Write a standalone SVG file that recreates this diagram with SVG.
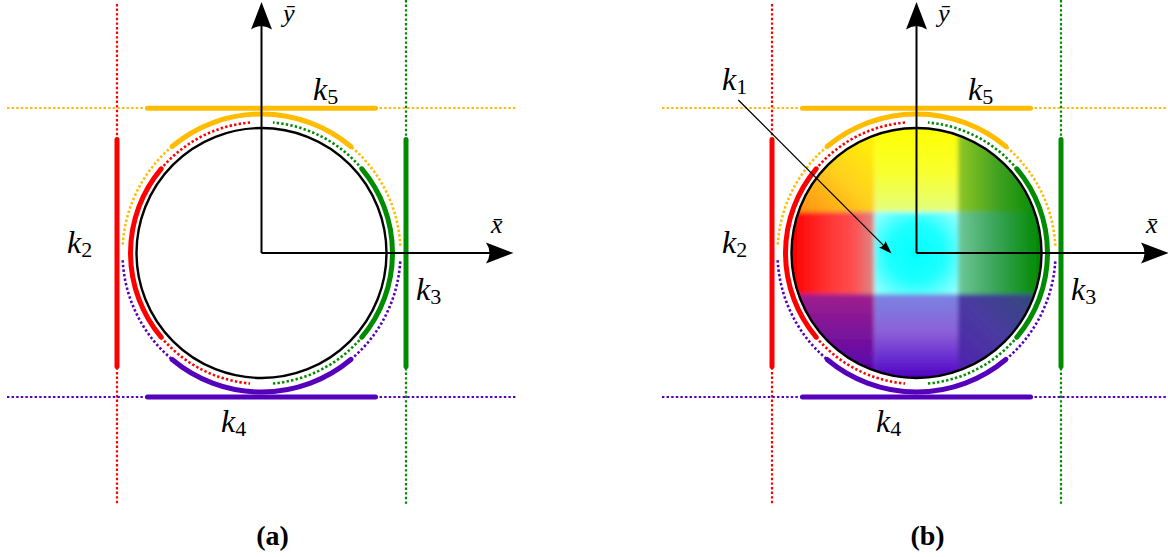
<svg xmlns="http://www.w3.org/2000/svg" xmlns:xlink="http://www.w3.org/1999/xlink" width="1168" height="557" viewBox="0 0 1168 557">
<style>
.dot{fill:none;stroke-width:2.6;stroke-dasharray:2.4 2.2;}
.ldot{fill:none;stroke-width:2.2;stroke-dasharray:2.4 2.2;}
.thick{fill:none;stroke-width:5;stroke-linecap:round;}
.r{stroke:#ff0000}.g{stroke:#008c00}.o{stroke:#ffbc00}.p{stroke:#5500bb}
.axis{stroke:#000;stroke-width:2;fill:none}
.head{fill:#000;stroke:none}
.lbl{font-family:"Liberation Serif",serif;font-style:italic;font-size:32px;fill:#000}
.sub{font-style:normal;font-size:22px}
.ax{font-size:26px}
.cap{font-family:"Liberation Serif",serif;font-weight:bold;font-size:28px;text-anchor:middle;fill:#000}
</style>
<defs>
<clipPath id="disk"><circle cx="916.5" cy="253" r="125"/></clipPath>
<filter id="soft" x="-5%" y="-5%" width="110%" height="110%"><feGaussianBlur stdDeviation="2"/></filter>
<linearGradient id="gTL" gradientUnits="userSpaceOnUse" x1="874" y1="135" x2="800" y2="212"><stop offset="0" stop-color="#fff400"/><stop offset="0.5" stop-color="#ffd020"/><stop offset="1" stop-color="#ff9010"/></linearGradient>
<linearGradient id="gTM" gradientUnits="userSpaceOnUse" x1="0" y1="128" x2="0" y2="212"><stop offset="0" stop-color="#ffff00"/><stop offset="0.55" stop-color="#f8ff30"/><stop offset="1" stop-color="#e2ff80"/></linearGradient>
<linearGradient id="gTR" gradientUnits="userSpaceOnUse" x1="958" y1="0" x2="1041" y2="0"><stop offset="0" stop-color="#90c826"/><stop offset="0.5" stop-color="#3ea020"/><stop offset="1" stop-color="#008a00"/></linearGradient>
<linearGradient id="gML" gradientUnits="userSpaceOnUse" x1="792" y1="0" x2="874.5" y2="0"><stop offset="0" stop-color="#ff0000"/><stop offset="0.4" stop-color="#ff3030"/><stop offset="0.75" stop-color="#ff5050"/><stop offset="1" stop-color="#d88a8a"/></linearGradient>
<radialGradient id="gC" gradientUnits="userSpaceOnUse" cx="916" cy="253" r="58"><stop offset="0" stop-color="#00ffff"/><stop offset="0.5" stop-color="#20ffff"/><stop offset="1" stop-color="#a0ffff"/></radialGradient>
<linearGradient id="gMR" gradientUnits="userSpaceOnUse" x1="958" y1="0" x2="1041" y2="0"><stop offset="0" stop-color="#70c898"/><stop offset="0.4" stop-color="#40a860"/><stop offset="1" stop-color="#008800"/></linearGradient>
<linearGradient id="gBL" gradientUnits="userSpaceOnUse" x1="0" y1="294" x2="0" y2="378"><stop offset="0" stop-color="#a0208c"/><stop offset="0.6" stop-color="#7010a0"/><stop offset="1" stop-color="#5000b0"/></linearGradient>
<linearGradient id="gBM" gradientUnits="userSpaceOnUse" x1="0" y1="294" x2="0" y2="378"><stop offset="0" stop-color="#7a86e2"/><stop offset="0.45" stop-color="#8c60d8"/><stop offset="0.75" stop-color="#6a30d0"/><stop offset="1" stop-color="#5000c0"/></linearGradient>
<linearGradient id="gBR" gradientUnits="userSpaceOnUse" x1="1041" y1="294" x2="958" y2="378"><stop offset="0" stop-color="#304a78"/><stop offset="0.5" stop-color="#4a3aa0"/><stop offset="1" stop-color="#5020b0"/></linearGradient>
<g id="frame">
<line class="ldot r" x1="117" y1="4" x2="117" y2="505"/>
<line class="ldot g" x1="406" y1="0" x2="406" y2="505"/>
<line class="ldot o" x1="7" y1="108" x2="516" y2="108"/>
<line class="ldot p" x1="7" y1="397" x2="516" y2="397"/>
<line class="thick r" x1="117" y1="139.5" x2="117" y2="366.5"/>
<line class="thick g" x1="406" y1="139.5" x2="406" y2="366.5"/>
<line class="thick o" x1="147.5" y1="108.3" x2="375.5" y2="108.3"/>
<line class="thick p" x1="147.5" y1="397" x2="375.5" y2="397"/>
<path class="thick r" d="M161.15,168.79 A131,131 0 0 0 161.15,337.21"/>
<path class="thick g" d="M361.85,337.21 A131,131 0 0 0 361.85,168.79"/>
<path class="dot r" d="M250.08,122.5 A131,131 0 0 0 161.15,168.79 M161.15,337.21 A131,131 0 0 0 250.08,383.5"/>
<path class="dot g" d="M361.85,168.79 A131,131 0 0 0 272.92,122.5 M272.92,383.5 A131,131 0 0 0 361.85,337.21"/>
<path class="thick o" d="M350.85,146.53 A139,139 0 0 0 172.15,146.53"/>
<path class="thick p" d="M172.15,359.47 A139,139 0 0 0 350.85,359.47"/>
<path class="dot o" d="M172.15,146.53 A139,139 0 0 0 122.69,245.72 M400.31,245.72 A139,139 0 0 0 350.85,146.53"/>
<path class="dot p" d="M122.69,260.28 A139,139 0 0 0 172.15,359.47 M350.85,359.47 A139,139 0 0 0 400.31,260.28"/>
</g>
<g id="axes">
<line class="axis" x1="261.5" y1="253" x2="261.5" y2="22"/>
<line class="axis" x1="261.5" y1="253" x2="494" y2="253"/>
<path class="head" d="M261.5,2 L251,29.5 Q261.5,22.5 272,29.5 Z"/>
<path class="head" d="M513.5,253 L486,242.5 Q493,253 486,263.5 Z"/>
</g>
</defs>

<g id="panel-a">
<use xlink:href="#frame"/>
<circle id="circle-a" cx="261.5" cy="253" r="125" fill="#fff" stroke="#000" stroke-width="2.4"/>
<use xlink:href="#axes"/>
<text class="lbl ax" x="283" y="22">ȳ</text>
<text class="lbl ax" x="491" y="233">x̄</text>
<text class="lbl" x="313" y="100">k<tspan class="sub" dy="4">5</tspan></text>
<text class="lbl" x="67" y="253">k<tspan class="sub" dy="4">2</tspan></text>
<text class="lbl" x="416" y="300">k<tspan class="sub" dy="4">3</tspan></text>
<text class="lbl" x="221" y="432">k<tspan class="sub" dy="4">4</tspan></text>
<text class="cap" x="272.5" y="545">(a)</text>
</g>

<g id="panel-b">
<use xlink:href="#frame" transform="translate(655,0)"/>
<g id="disk-b" clip-path="url(#disk)">
<g filter="url(#soft)">
<rect x="780" y="115" width="94.5" height="97" fill="url(#gTL)"/>
<rect x="874.5" y="115" width="83.5" height="97" fill="url(#gTM)"/>
<rect x="958" y="115" width="95" height="97" fill="url(#gTR)"/>
<rect x="780" y="212" width="94.5" height="82" fill="url(#gML)"/>
<rect x="874.5" y="212" width="83.5" height="82" fill="url(#gC)"/>
<rect x="958" y="212" width="95" height="82" fill="url(#gMR)"/>
<rect x="780" y="294" width="94.5" height="97" fill="url(#gBL)"/>
<rect x="874.5" y="294" width="83.5" height="97" fill="url(#gBM)"/>
<rect x="958" y="294" width="95" height="97" fill="url(#gBR)"/>
</g>
</g>
<circle cx="916.5" cy="253" r="125" fill="none" stroke="#000" stroke-width="2.4"/>
<use xlink:href="#axes" transform="translate(655,0)"/>
<text class="lbl ax" x="938" y="22">ȳ</text>
<text class="lbl ax" x="1146" y="233">x̄</text>
<text class="lbl" x="968" y="100">k<tspan class="sub" dy="4">5</tspan></text>
<text class="lbl" x="722" y="253">k<tspan class="sub" dy="4">2</tspan></text>
<text class="lbl" x="1071" y="300">k<tspan class="sub" dy="4">3</tspan></text>
<text class="lbl" x="876" y="432">k<tspan class="sub" dy="4">4</tspan></text>
<text class="lbl" x="722" y="90">k<tspan class="sub" dy="4">1</tspan></text>
<g id="arrow-k1">
<line x1="738.3" y1="100" x2="885" y2="246.8" stroke="#000" stroke-width="1.2"/>
<path class="head" d="M891.5,253.5 L879.1,247.5 Q884.6,246.6 885.5,241.1 Z"/>
</g>
<text class="cap" x="927.5" y="545">(b)</text>
</g>
</svg>
